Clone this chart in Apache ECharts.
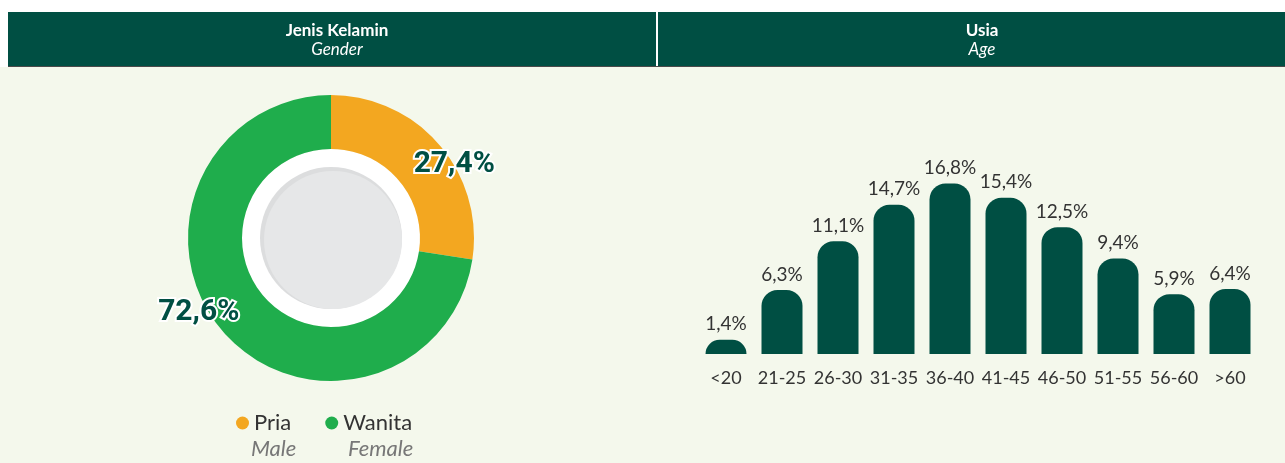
<!DOCTYPE html>
<html>
<head>
<meta charset="utf-8">
<script src="https://cdn.jsdelivr.net/npm/echarts@6/dist/echarts.min.js"></script>
<style>
  html, body { margin: 0; padding: 0; background: #fff; }
  #chart { width: 1285px; height: 463px; }
</style>
</head>
<body>
<div id="chart"></div>
<script>
// gender
const genderNames = ["Pria", "Wanita"];
const genderNamesEn = ["Male", "Female"];
const genderValues = [27.4, 72.6];
const genderColors = ["#F3A720", "#1FAD4C"];

// age
const ageCategories = ["<20", "21-25", "26-30", "31-35", "36-40", "41-45", "46-50", "51-55", "56-60", ">60"];
const ageValues = [1.4, 6.3, 11.1, 14.7, 16.8, 15.4, 12.5, 9.4, 5.9, 6.4];

const dark = "#004F43";
const fmt = (v) => String(v).replace(".", ",") + "%";

const myChart = echarts.init(document.getElementById("chart"));

// nudge the donut labels onto the outer edge
const labelShift = [
  { dx: 33, dy: 4 },
  { dx: -42, dy: -3 },
];

const option = {
  backgroundColor: "#F4F8EC",
  animation: false,
  textStyle: { fontFamily: "Lato" },
  graphic: [
    { type: "rect", shape: { x: 0, y: 0, width: 1285, height: 12 }, style: { fill: "#fff" }, z: -1 },
    { type: "rect", shape: { x: 0, y: 12, width: 8, height: 55 }, style: { fill: "#fff" }, z: -1 },
    { type: "rect", shape: { x: 8, y: 12, width: 1277, height: 54 }, style: { fill: dark }, z: -1 },
    { type: "rect", shape: { x: 8, y: 66, width: 1277, height: 1 }, style: { fill: "#4a4a4a" }, z: -1 },
    { type: "rect", shape: { x: 656, y: 12, width: 2, height: 54 }, style: { fill: "#fff" }, z: -1 },
    // hole of the donut
    { type: "circle", shape: { cx: 331, cy: 238, r: 89 }, style: { fill: "#fff" }, z: 0 },
    { type: "circle", shape: { cx: 331, cy: 238, r: 71 }, style: { fill: "#DCDDDE" }, z: 0 },
    { type: "circle", shape: { cx: 333, cy: 240, r: 69 }, style: { fill: "#E6E7E8" }, z: 0 },
    // english legend names
    {
      type: "text", left: 251, top: 438,
      style: { text: genderNamesEn[0], fill: "#777", font: "italic 22px Lato" },
    },
    {
      type: "text", left: 348, top: 438,
      style: { text: genderNamesEn[1], fill: "#777", font: "italic 22px Lato" },
    },
  ],
  title: [
    {
      text: "Jenis Kelamin",
      subtext: "Gender",
      left: 332,
      top: 17,
      textAlign: "center",
      itemGap: 2,
      textStyle: { color: "#fff", fontSize: 17, fontWeight: "bold", fontFamily: "Lato" },
      subtextStyle: { color: "#fff", fontSize: 17, fontStyle: "italic", fontFamily: "Lato" },
    },
    {
      text: "Usia",
      subtext: "Age",
      left: 977,
      top: 17,
      textAlign: "center",
      itemGap: 2,
      textStyle: { color: "#fff", fontSize: 17, fontWeight: "bold", fontFamily: "Lato" },
      subtextStyle: { color: "#fff", fontSize: 17, fontStyle: "italic", fontFamily: "Lato" },
    },
  ],
  legend: {
    left: 231,
    top: 407,
    itemGap: 34,
    itemWidth: 13,
    itemHeight: 13,
    icon: "circle",
    data: genderNames,
    textStyle: { color: "#333", fontSize: 22, fontFamily: "Lato", padding: [0, 0, 0, 0] },
  },
  grid: {
    left: 698,
    right: 27,
    top: 80,
    bottom: 109,
  },
  xAxis: {
    type: "category",
    data: ageCategories,
    axisLine: { show: false },
    axisTick: { show: false },
    axisLabel: { color: "#333", fontSize: 18, margin: 15, interval: 0, fontFamily: "Lato" },
  },
  yAxis: {
    type: "value",
    min: 0,
    max: 27,
    show: false,
  },
  series: [
    {
      type: "pie",
      center: [331, 238],
      radius: [89, 143],
      startAngle: 90,
      clockwise: true,
      silent: true,
      z: 2,
      data: genderNames.map((n, i) => ({
        name: n,
        value: genderValues[i],
        itemStyle: { color: genderColors[i] },
      })),
      label: {
        position: "inside",
        formatter: (p) => fmt(p.value),
        color: dark,
        fontSize: 30,
        fontWeight: "bold",
        fontFamily: "Roboto",
        textBorderColor: "#fff",
        textBorderWidth: 4,
      },
      labelLine: { show: false },
      labelLayout: (p) => labelShift[p.dataIndex],
    },
    {
      type: "bar",
      data: ageValues,
      barWidth: 41,
      itemStyle: { color: dark, borderRadius: [16, 16, 0, 0] },
      label: {
        show: true,
        position: "top",
        distance: 6,
        formatter: (p) => fmt(p.value),
        color: "#333",
        fontSize: 19,
        fontFamily: "Lato",
      },
    },
  ],
};

myChart.setOption(option);
</script>
</body>
</html>
